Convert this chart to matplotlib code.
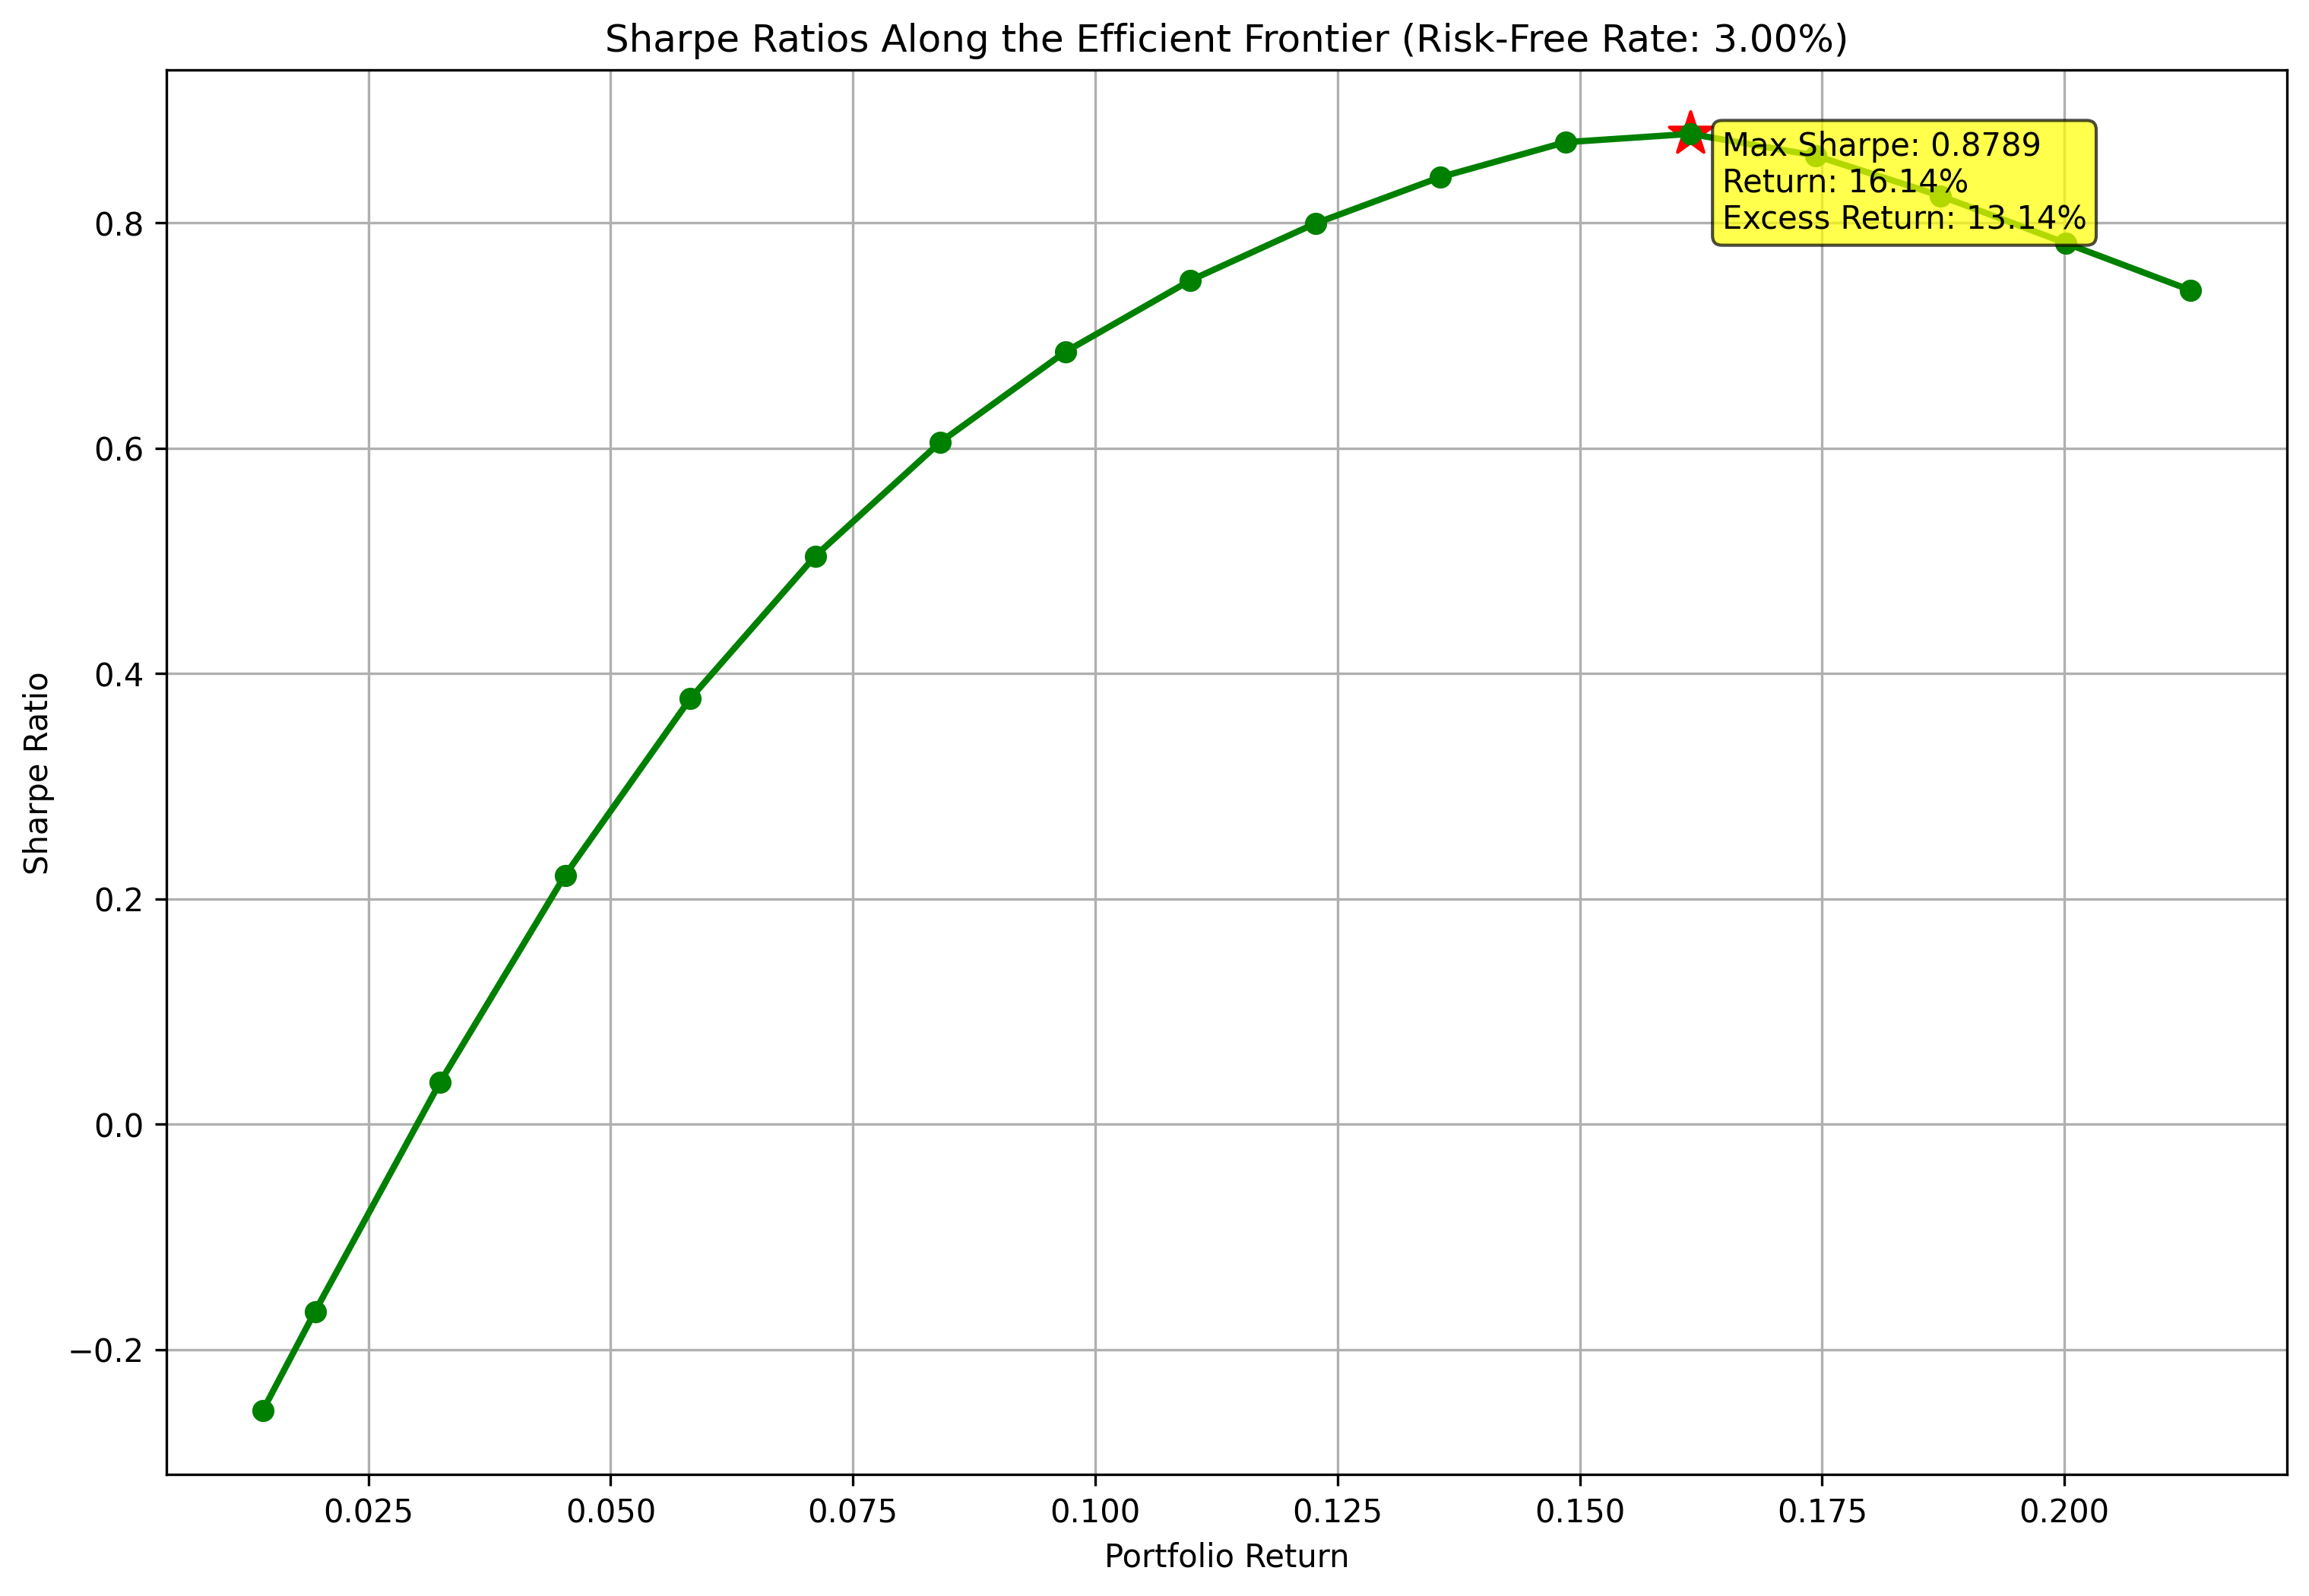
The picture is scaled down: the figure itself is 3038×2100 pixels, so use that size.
import matplotlib
matplotlib.use("Agg")
import matplotlib.pyplot as plt

# frontier points
port_returns = [0.0141, 0.0195, 0.0324, 0.0453, 0.0582, 0.0711, 0.0840, 0.0969, 0.1098,
                0.1227, 0.1356, 0.1485, 0.1614, 0.1743, 0.1872, 0.2001, 0.2130]
sharpe_ratios = [-0.2544, -0.1663, 0.0371, 0.2209, 0.3775, 0.5041, 0.6052, 0.6854, 0.7488,
                 0.7994, 0.8405, 0.8715, 0.8789, 0.8596, 0.8239, 0.7820, 0.7402]
risk_free = 0.03
max_idx = 12

plt.figure(figsize=(12, 8))
plt.plot(port_returns, sharpe_ratios, 'g-o', linewidth=2)

best_ret = port_returns[max_idx]
best_sr = sharpe_ratios[max_idx]
plt.scatter(best_ret, best_sr, marker='*', s=200, color='red')
plt.annotate(f"Max Sharpe: {best_sr:.4f}\nReturn: {best_ret:.2%}\nExcess Return: {best_ret - risk_free:.2%}",
             xy=(best_ret, best_sr), xytext=(10, -30), textcoords='offset points',
             bbox=dict(boxstyle='round,pad=0.3', fc='yellow', alpha=0.7))

plt.xlabel('Portfolio Return')
plt.ylabel('Sharpe Ratio')
plt.title(f'Sharpe Ratios Along the Efficient Frontier (Risk-Free Rate: {risk_free:.2%})')
plt.grid(True)
plt.savefig('out.png', dpi=300, bbox_inches='tight')
